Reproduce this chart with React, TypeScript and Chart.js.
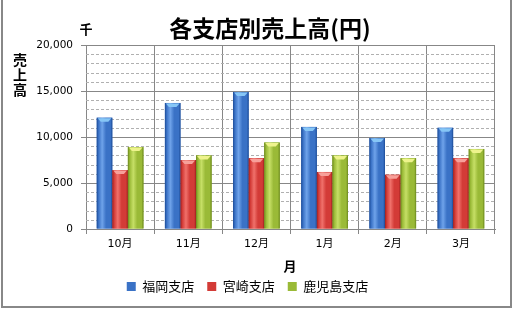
import React, { useEffect, useRef } from 'react';
import { Chart, registerables } from 'chart.js';
Chart.register(...registerables);

const months = ['10月', '11月', '12月', '1月', '2月', '3月'];
const fukuoka = [12100, 13700, 14900, 11100, 9900, 11000];
const miyazaki = [6400, 7500, 7700, 6200, 5900, 7700];
const kagoshima = [8900, 8000, 9400, 8000, 7700, 8700];
const seriesNames = ['福岡支店', '宮崎支店', '鹿児島支店'];
const yMin = 0;
const yMax = 20000;
const yMajor = 5000;
const yMinor = 1000;
const titleText = '各支店別売上高(円)';
const yTitleChars = ['売', '上', '高'];
const unitLabel = '千';
const xTitle = '月';

const palettes = [
  { dark: '#1b4a96', base: '#3a72c6', light: '#6fa3ea', cap: '#86c6f6' },
  { dark: '#9e1f1d', base: '#d33b37', light: '#f0716b', cap: '#f7a09a' },
  { dark: '#6a871c', base: '#9aba37', light: '#c6df66', cap: '#eef38c' },
];

const CJK = '"Noto Sans CJK JP", "DejaVu Sans", sans-serif';
const NUM = '"DejaVu Sans", "Noto Sans CJK JP", sans-serif';
const GRID = '#878787';

const decor = {
  id: 'decor',
  beforeDraw(chart: any) {
    const { ctx, width, height } = chart;
    ctx.save();
    ctx.fillStyle = '#ffffff';
    ctx.fillRect(0, 0, width, height);
    ctx.restore();
  },
  beforeDatasetsDraw(chart: any) {
    const { ctx, chartArea } = chart;
    const ys = chart.scales.y;
    ctx.save();
    ctx.strokeStyle = '#b0b0b0';
    ctx.lineWidth = 1;
    ctx.setLineDash([3, 2]);
    for (let v = yMin + yMinor; v < yMax; v += yMinor) {
      if (v % yMajor === 0) continue;
      const py = Math.round(ys.getPixelForValue(v)) + 0.5;
      ctx.beginPath();
      ctx.moveTo(chartArea.left, py);
      ctx.lineTo(chartArea.right, py);
      ctx.stroke();
    }
    ctx.restore();
  },
  afterDatasetsDraw(chart: any) {
    const { ctx } = chart;
    ctx.save();
    chart.data.datasets.forEach((ds: any, di: number) => {
      const meta = chart.getDatasetMeta(di);
      const p = palettes[di];
      meta.data.forEach((el: any) => {
        const { x, y, base, width } = el.getProps(['x', 'y', 'base', 'width'], true);
        const left = x - width / 2;
        const g = ctx.createLinearGradient(left, 0, left + width, 0);
        g.addColorStop(0, p.dark);
        g.addColorStop(0.12, p.base);
        g.addColorStop(0.35, p.light);
        g.addColorStop(0.6, p.base);
        g.addColorStop(0.88, p.base);
        g.addColorStop(1, p.dark);
        ctx.fillStyle = g;
        ctx.fillRect(left, y, width, base - y);
        ctx.fillStyle = p.cap;
        ctx.beginPath();
        ctx.moveTo(left + 1, y + 0.5);
        ctx.lineTo(left + width - 1, y + 0.5);
        ctx.lineTo(left + width - 4, y + 4);
        ctx.lineTo(left + 4, y + 4);
        ctx.closePath();
        ctx.fill();
      });
    });
    ctx.restore();
  },
  afterDraw(chart: any) {
    const { ctx } = chart;
    ctx.save();
    ctx.fillStyle = '#000';
    ctx.textAlign = 'center';
    ctx.textBaseline = 'middle';
    ctx.font = 'bold 23px ' + CJK;
    ctx.fillText(titleText, 270, 28);
    ctx.font = 'bold 13px ' + CJK;
    ctx.fillText(unitLabel, 86, 29);
    ctx.font = 'bold 14px ' + CJK;
    yTitleChars.forEach((c, i) => ctx.fillText(c, 20, 60 + i * 15));
    ctx.font = 'bold 13px ' + CJK;
    ctx.fillText(xTitle, 290, 266);
    ctx.strokeStyle = '#888';
    ctx.lineWidth = 2;
    ctx.strokeRect(2, -10, 509, 317);
    ctx.restore();
  },
};

export default function App() {
  const ref = useRef<HTMLCanvasElement>(null);
  useEffect(() => {
    document.body.style.margin = '0';
    const datasets = [fukuoka, miyazaki, kagoshima].map((d, i) => ({
      label: seriesNames[i],
      data: d,
      backgroundColor: palettes[i].base,
      borderWidth: 0,
      barPercentage: 1,
      categoryPercentage: 0.685,
    }));
    const chart = new Chart(ref.current!, {
      type: 'bar',
      data: { labels: months, datasets },
      options: {
        animation: false,
        responsive: true,
        maintainAspectRatio: false,
        layout: { padding: { left: 0, right: 18, top: 45, bottom: 6 } },
        plugins: {
          title: { display: false },
          tooltip: { enabled: false },
          legend: {
            position: 'bottom',
            labels: {
              boxWidth: 9,
              boxHeight: 9,
              padding: 13,
              color: '#000',
              font: { family: CJK, size: 13 },
            },
          },
        },
        scales: {
          x: {
            grid: { color: GRID, offset: true, tickLength: 5, drawTicks: true },
            border: { color: GRID },
            ticks: { color: '#000', padding: 4, font: { family: NUM, size: 11 } },
            afterFit: (s: any) => { s.height = 38; },
          },
          y: {
            min: yMin,
            max: yMax,
            grid: { color: GRID, tickLength: 5 },
            border: { color: GRID },
            ticks: {
              stepSize: yMajor,
              color: '#000',
              padding: 8,
              font: { family: NUM, size: 10.5 },
              callback: (v: any) => Number(v).toLocaleString('en-US'),
            },
            afterFit: (s: any) => { s.width = 86; },
          },
        },
      },
      plugins: [decor],
    });
    return () => chart.destroy();
  }, []);
  return (
    <div style={{ width: 513, height: 309, position: 'relative' }}>
      <canvas ref={ref} />
    </div>
  );
}
